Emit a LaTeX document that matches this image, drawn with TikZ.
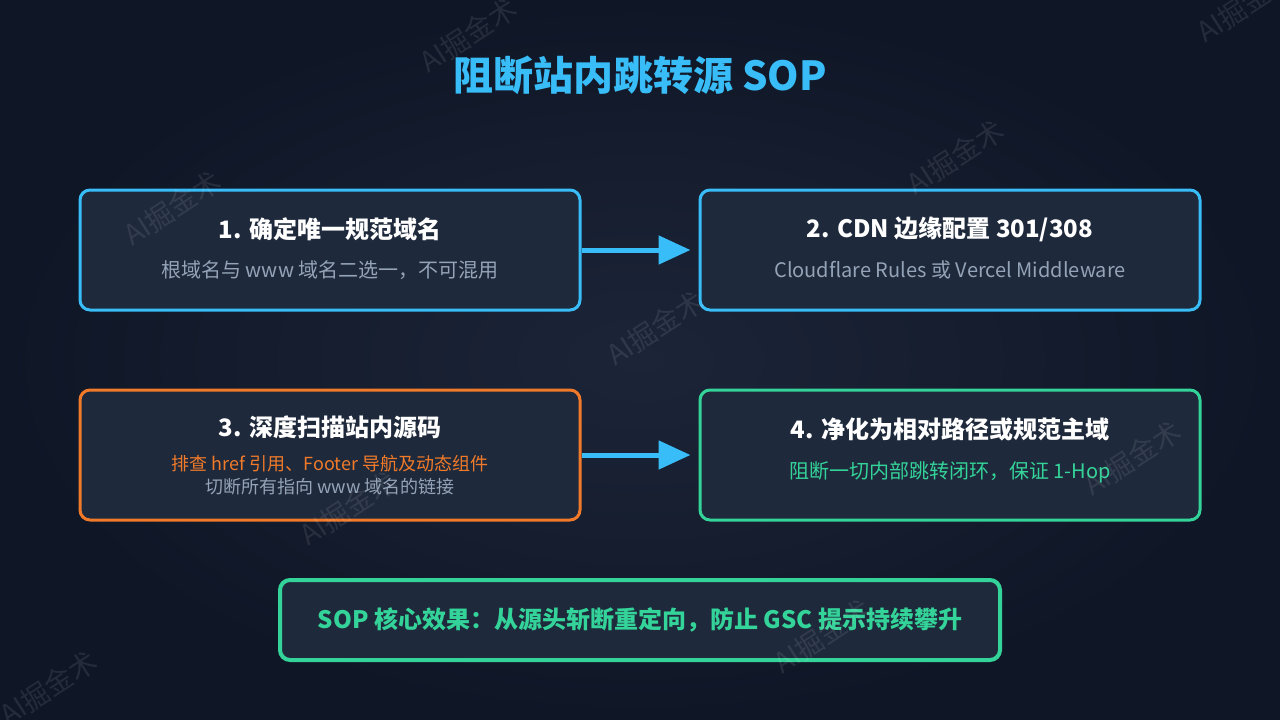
\documentclass[tikz,border=0pt]{standalone}
\usepackage{fontspec}
\setmainfont{Noto Sans CJK SC}
\usetikzlibrary{arrows.meta}

\definecolor{bgin}{HTML}{1C2538}
\definecolor{bgout}{HTML}{0F1626}
\definecolor{boxfill}{HTML}{1E293B}
\definecolor{skyc}{HTML}{38BDF8}
\definecolor{orangec}{HTML}{F07A2A}
\definecolor{greenc}{HTML}{34D399}
\definecolor{subgray}{HTML}{94A3B8}

\begin{document}
\begin{tikzpicture}
        [x=1pt, y=-1pt,
        box/.style={draw, rounded corners=10pt, line width=3pt, fill=boxfill, minimum width=500pt, minimum height=120pt},
        boxtitle/.style={text=white, font=\bfseries\fontsize{24}{28}\selectfont},
        boxsub/.style={text=subgray, font=\fontsize{20}{24}\selectfont},
        flow/.style={skyc, line width=5pt, -{Triangle[length=32pt,width=28pt]}, shorten >=8pt},
        wmark/.style={text=white, opacity=0.09, rotate=33, font=\fontsize{28}{32}\selectfont}]

        % background
        \useasboundingbox (0,0) rectangle (1280,720);
        \shade[inner color=bgin, outer color=bgout] (0,0) rectangle (1280,720);

        \node[text=skyc, font=\bfseries\fontsize{40}{46}\selectfont] (title) at (640,75) {阻断站内跳转源 SOP};

        % step boxes
        \node[box, draw=skyc] (b1) at (330,250) {};
        \node[box, draw=skyc] (b2) at (950,250) {};
        \node[box, draw=orangec, minimum height=130pt] (b3) at (330,455) {};
        \node[box, draw=greenc, minimum height=130pt] (b4) at (950,455) {};
        \node[box, draw=greenc, line width=4pt, minimum width=720pt, minimum height=80pt] (sum) at (640,620) {};

        % box texts
        \node[boxtitle] (t1) at (330,229) {1. 确定唯一规范域名};
        \node[boxsub] (s1) at (330,270) {根域名与 www 域名二选一，不可混用};
        \node[boxtitle] (t2) at (950,229) {2. CDN 边缘配置 301/308};
        \node[boxsub] (s2) at (950,270) {Cloudflare Rules 或 Vercel Middleware};
        \node[boxtitle] (t3) at (330,427) {3. 深度扫描站内源码};
        \node[boxsub, text=orangec, font=\fontsize{18}{22}\selectfont] (s3) at (330,464) {排查 href 引用、Footer 导航及动态组件};
        \node[boxsub, font=\fontsize{18}{22}\selectfont] (s3b) at (330,487) {切断所有指向 www 域名的链接};
        \node[boxtitle] (t4) at (950,429) {4. 净化为相对路径或规范主域};
        \node[boxsub, text=greenc] (s4) at (950,472) {阻断一切内部跳转闭环，保证 1-Hop};
        \node[boxtitle, text=greenc] (tsum) at (640,620) {SOP 核心效果：从源头斩断重定向，防止 GSC 提示持续攀升};

        % arrows
        \draw[flow] (b1) -- (b2);
        \draw[flow] (b3) -- (b4);

        % watermarks
        \node[wmark] (w1) at (468,35) {AI掘金术};
        \node[wmark] (w2) at (172,208) {AI掘金术};
        \node[wmark] (w3) at (955,157) {AI掘金术};
        \node[wmark] (w4) at (655,328) {AI掘金术};
        \node[wmark] (w5) at (348,508) {AI掘金术};
        \node[wmark] (w6) at (1132,458) {AI掘金术};
        \node[wmark] (w7) at (822,636) {AI掘金术};
        \node[wmark] (w8) at (48,688) {AI掘金术};
        \node[wmark] (w9) at (1245,5) {AI掘金术};

    \end{tikzpicture}
\end{document}
